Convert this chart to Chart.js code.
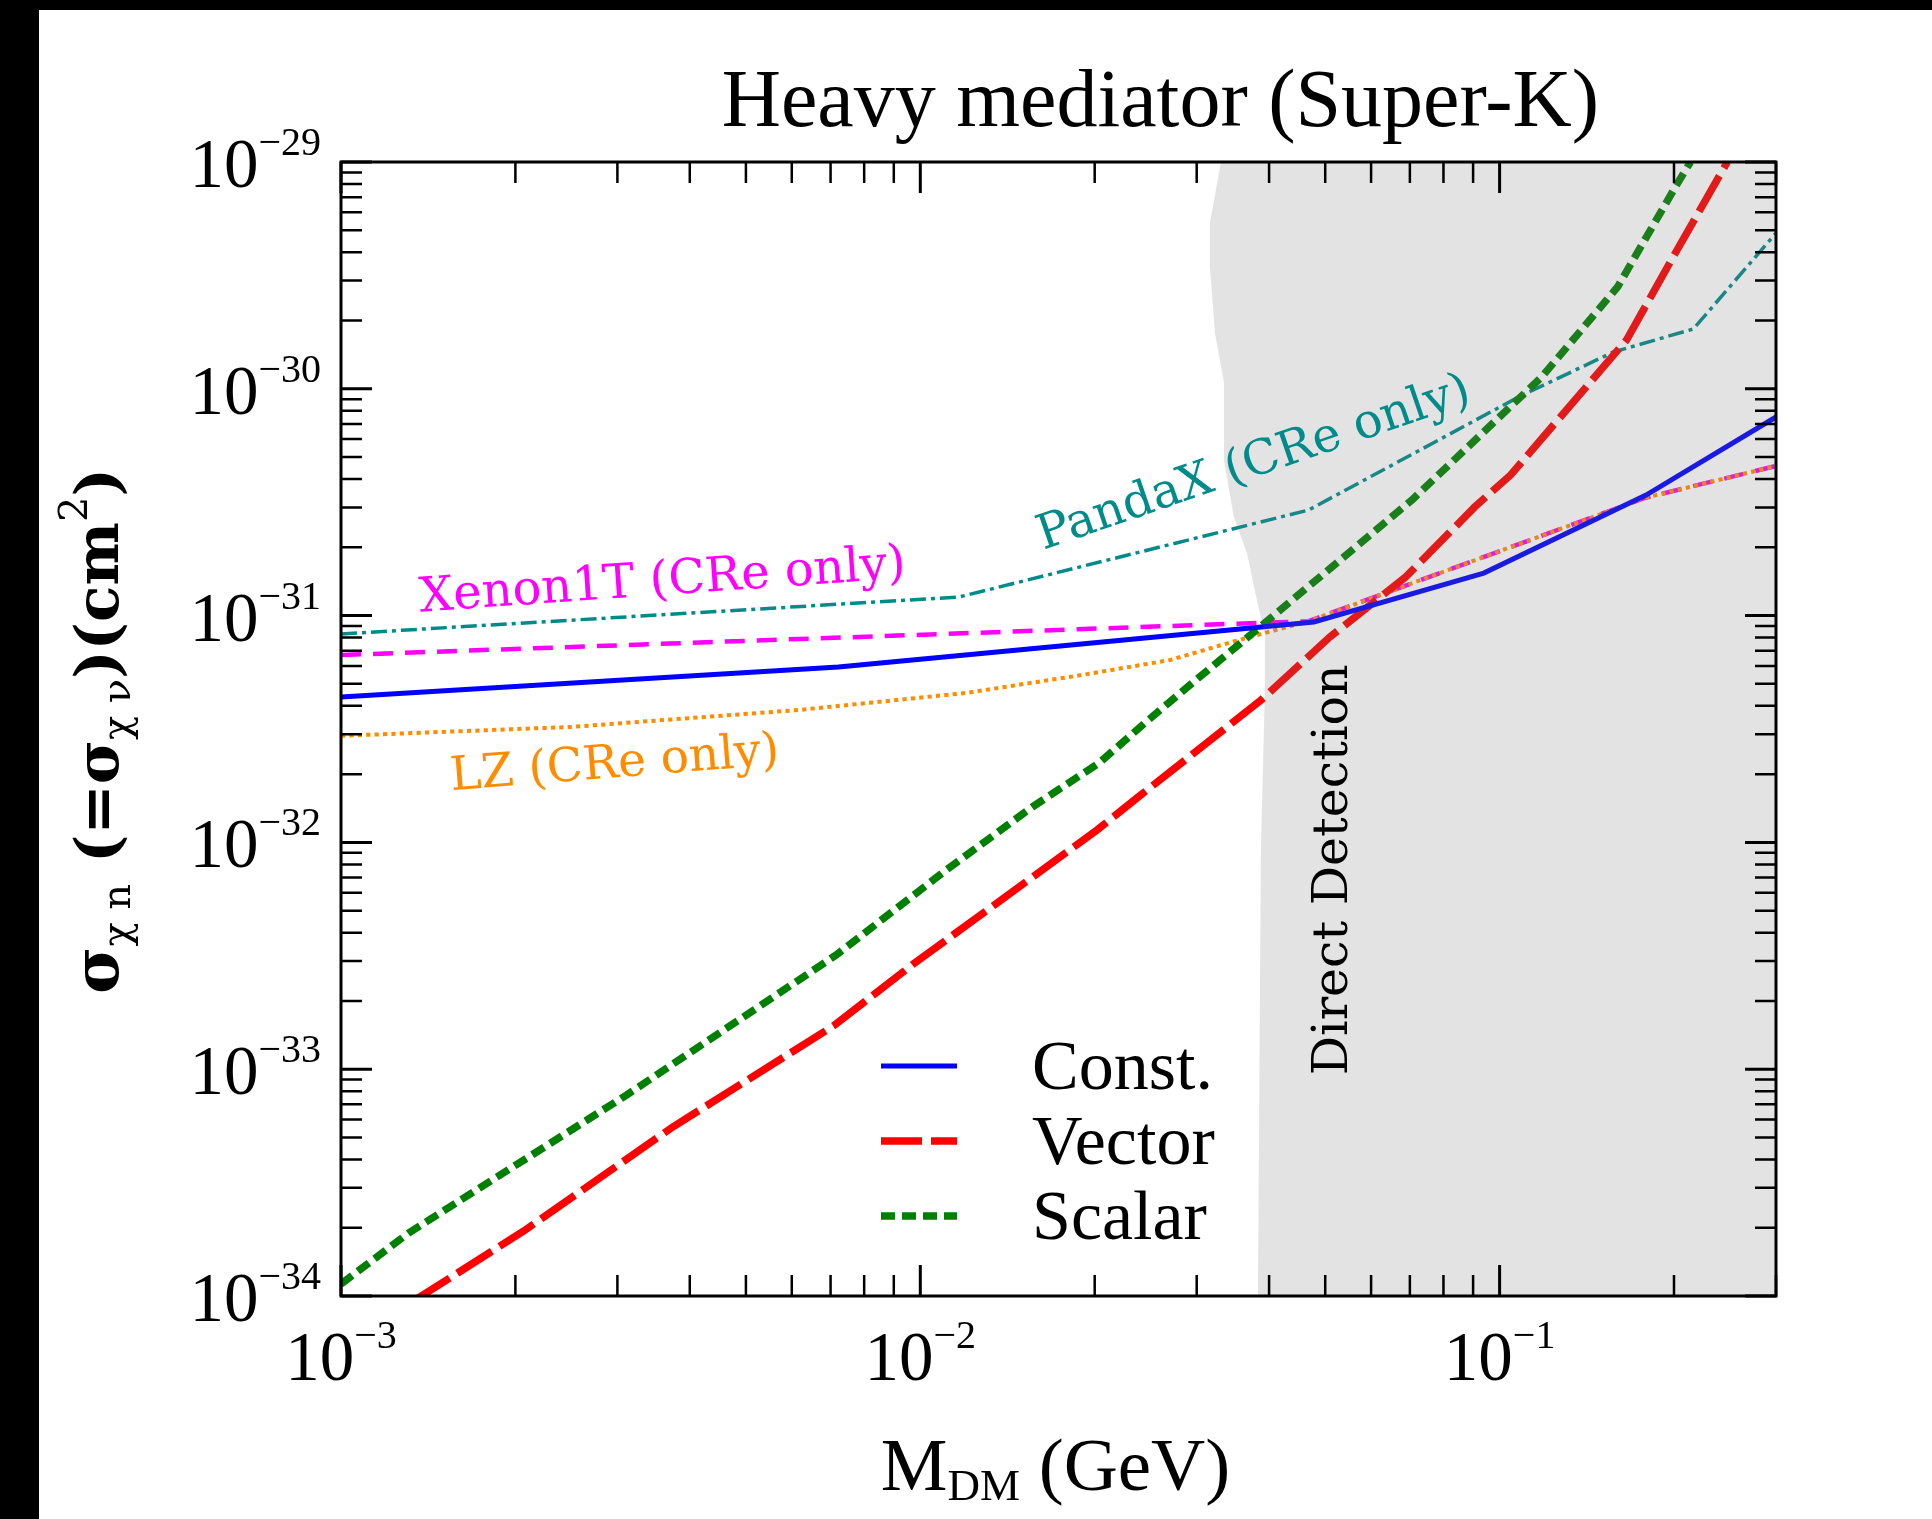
<!DOCTYPE html>
<html lang="en">
<head>
<meta charset="UTF-8">
<title>Heavy mediator (Super-K)</title>
<script src="https://cdn.jsdelivr.net/npm/chart.js"></script>
<style>
  html, body { margin: 0; padding: 0; background: #000; overflow: hidden; }
  #wrap { position: absolute; left: 39px; top: 10px; width: 1893px; height: 1509px; background: #fff; }
</style>
</head>
<body>
<div id="wrap"><canvas id="chart"></canvas></div>
<script>
// axis ranges: DM mass in GeV, cross section in cm^2
const massRange = [1e-3, 0.3];
const sigmaRange = [1e-34, 1e-29];
const massTickExp = [-3, -2, -1];
const sigmaTickExp = [-34, -33, -32, -31, -30, -29];

// Super-K bounds, heavy mediator
const constMass = [0.001, 0.00722, 0.0478, 0.0939, 0.179, 0.3];
const constSigma = [4.38e-32, 5.93e-32, 9.37e-32, 1.54e-31, 3.40e-31, 7.51e-31];

const vectorMass = [0.001342, 0.002068, 0.003737, 0.007079, 0.009725, 0.02019, 0.02366, 0.03877, 0.05091, 0.06884, 0.09055, 0.1045, 0.1656, 0.2011, 0.2472];
const vectorSigma = [9.6e-35, 1.935e-34, 5.56e-34, 1.55e-33, 2.909e-33, 1.134e-32, 1.57e-32, 4.245e-32, 8.04e-32, 1.48e-31, 3.01e-31, 4.17e-31, 1.641e-30, 3.97e-30, 1.0e-29];

const scalarMass = [0.001, 0.00131, 0.00311, 0.00716, 0.01109, 0.0156, 0.02035, 0.02453, 0.02991, 0.03934, 0.07053, 0.1182, 0.1598, 0.2011, 0.2135];
const scalarSigma = [1.13e-34, 1.90e-34, 7.69e-34, 3.19e-33, 7.56e-33, 1.432e-32, 2.239e-32, 3.396e-32, 5.20e-32, 9.28e-32, 3.23e-31, 1.127e-30, 2.81e-30, 7.76e-30, 1.0e-29];

// cosmic-ray electron bounds from other experiments
const lzMass = [0.001, 0.0025, 0.0062, 0.012, 0.019, 0.027, 0.035, 0.0468, 0.178, 0.3];
const lzSigma = [2.95e-32, 3.23e-32, 3.84e-32, 4.56e-32, 5.47e-32, 6.37e-32, 7.73e-32, 9.45e-32, 3.3e-31, 4.57e-31];

const xenonMass = [0.001, 0.0468, 0.178, 0.3];
const xenonSigma = [6.70e-32, 9.45e-32, 3.3e-31, 4.57e-31];

const pandaMass = [0.001, 0.01167, 0.0468, 0.1078, 0.1572, 0.216, 0.3];
const pandaSigma = [8.30e-32, 1.208e-31, 2.92e-31, 9.20e-31, 1.453e-30, 1.835e-30, 4.86e-30];

// left edge of the direct detection region, top to bottom
const shadeMass = [0.03304, 0.03162, 0.03162, 0.03226, 0.03343, 0.03343, 0.03478, 0.03663, 0.03811, 0.03934, 0.03934, 0.03872, 0.03827];
const shadeSigma = [1e-29, 5.38e-30, 3.44e-30, 1.762e-30, 1.072e-30, 4.85e-31, 2.72e-31, 1.888e-31, 1.172e-31, 8.21e-32, 4.70e-32, 9.26e-33, 1e-34];

const pts = (xs, ys) => xs.map((m, i) => ({x: m, y: ys[i]}));

const times = '"Liberation Serif", serif';
const dejavu = '"DejaVu Serif", serif';

function line(label, xs, ys, color, width, dash) {
  return {label, data: pts(xs, ys), borderColor: color, borderWidth: width, borderDash: dash,
          pointRadius: 0, fill: false, tension: 0};
}

// 10^n label, "10" plus a raised exponent
function power(ctx, exp, x, base, align) {
  const sup = '\u2212' + Math.abs(exp);
  ctx.font = '69px ' + times;
  const w1 = ctx.measureText('10').width;
  ctx.font = '40px ' + times;
  const w2 = ctx.measureText(sup).width;
  const left = align === 'right' ? x - w1 - w2 : x - (w1 + w2) / 2;
  ctx.textAlign = 'left';
  ctx.textBaseline = 'alphabetic';
  ctx.font = '69px ' + times;
  ctx.fillText('10', left, base);
  ctx.font = '40px ' + times;
  ctx.fillText(sup, left + w1, base - 32);
}

function note(ctx, text, color, px, py, deg, size) {
  ctx.save();
  ctx.translate(px, py);
  ctx.rotate(deg * Math.PI / 180);
  ctx.fillStyle = color;
  ctx.font = size + 'px ' + dejavu;
  ctx.textAlign = 'left';
  ctx.textBaseline = 'alphabetic';
  ctx.fillText(text, 0, 0);
  ctx.restore();
}

// run of text pieces with their own font and baseline shift
function runs(ctx, parts, x0, base) {
  let x = x0;
  for (const [t, font, dy] of parts) {
    ctx.font = font;
    ctx.fillText(t, x, base + dy);
    x += ctx.measureText(t).width;
  }
}
function runsWidth(ctx, parts) {
  let w = 0;
  for (const [t, font] of parts) { ctx.font = font; w += ctx.measureText(t).width; }
  return w;
}

function logTicks(scale) {
  const out = [];
  const lo = Math.floor(Math.log10(scale.min) + 1e-9);
  const hi = Math.ceil(Math.log10(scale.max) - 1e-9);
  for (let e = lo; e <= hi; e++) {
    for (let k = 1; k < 10; k++) {
      const v = k * Math.pow(10, e);
      if (v >= scale.min * 0.999 && v <= scale.max * 1.001) out.push({v, major: k === 1});
    }
  }
  return out;
}

const decor = {
  id: 'decor',
  afterDatasetsDraw(chart) {
    const {ctx, chartArea: a, scales: {x, y}} = chart;
    ctx.save();

    // curve labels
    note(ctx, 'Xenon1T (CRe only)', '#ff00ff', x.getPixelForValue(1.37e-3), y.getPixelForValue(1.04e-31), -4, 48);
    note(ctx, 'LZ (CRe only)', '#ff8c00', x.getPixelForValue(1.55e-3), y.getPixelForValue(1.70e-32), -4.5, 47);
    note(ctx, 'PandaX (CRe only)', '#008b8b', x.getPixelForValue(1.63e-2), y.getPixelForValue(1.95e-31), -19, 48);
    note(ctx, 'Direct Detection', '#000', x.getPixelForValue(0.0545), y.getPixelForValue(9.4e-34), -90, 49);

    // legend
    chart.data.datasets.slice(1, 4).forEach((ds, i) => {
      const ly = a.bottom - 230 + i * 75;
      ctx.save();
      ctx.strokeStyle = ds.borderColor;
      ctx.lineWidth = ds.borderWidth;
      ctx.setLineDash(ds.borderDash);
      ctx.beginPath();
      ctx.moveTo(a.left + 540, ly);
      ctx.lineTo(a.left + 616, ly);
      ctx.stroke();
      ctx.restore();
      ctx.fillStyle = '#000';
      ctx.font = '70px ' + times;
      ctx.textAlign = 'left';
      ctx.textBaseline = 'alphabetic';
      ctx.fillText(ds.label, a.left + 691, ly + 23);
    });

    // frame and inward ticks on all sides
    ctx.strokeStyle = '#000';
    ctx.lineWidth = 3;
    ctx.setLineDash([]);
    ctx.strokeRect(a.left, a.top, a.width, a.height);
    for (const t of logTicks(x)) {
      const px = x.getPixelForValue(t.v);
      const len = t.major ? 31 : 21;
      ctx.lineWidth = t.major ? 3 : 2.5;
      ctx.beginPath();
      ctx.moveTo(px, a.bottom); ctx.lineTo(px, a.bottom - len);
      ctx.moveTo(px, a.top); ctx.lineTo(px, a.top + len);
      ctx.stroke();
    }
    for (const t of logTicks(y)) {
      const py = y.getPixelForValue(t.v);
      const len = t.major ? 31 : 21;
      ctx.lineWidth = t.major ? 3 : 2.5;
      ctx.beginPath();
      ctx.moveTo(a.left, py); ctx.lineTo(a.left + len, py);
      ctx.moveTo(a.right, py); ctx.lineTo(a.right - len, py);
      ctx.stroke();
    }

    // tick labels
    ctx.fillStyle = '#000';
    massTickExp.forEach(e => power(ctx, e, x.getPixelForValue(Math.pow(10, e)), a.bottom + 84, 'center'));
    sigmaTickExp.forEach(e => power(ctx, e, a.left - 20, y.getPixelForValue(Math.pow(10, e)) + 25, 'right'));

    // title
    ctx.font = '82px ' + times;
    ctx.textAlign = 'center';
    ctx.fillText('Heavy mediator (Super-K)', a.left + a.width * 0.571, a.top - 36);

    // x axis title
    ctx.textAlign = 'left';
    const xt = [['M', '75px ' + times, 0], ['DM', '45px ' + times, 10], [' (GeV)', '75px ' + times, 0]];
    runs(ctx, xt, a.left + a.width / 2 - 3 - runsWidth(ctx, xt) / 2, a.bottom + 194);

    // y axis title, rotated
    const big = 'bold 60px ' + dejavu, sub = '40px ' + dejavu;
    const yt = [['\u03c3', 'bold 64px ' + dejavu, 0], ['\u03c7 n', sub, 12], [' (=\u03c3', big, 0], ['\u03c7 \u03bd', sub, 12],
                [')(cm', big, 0], ['2', sub, -31], [')', big, 0]];
    ctx.save();
    ctx.translate(a.left - 223, (a.top + a.bottom) / 2 + 2);
    ctx.rotate(-Math.PI / 2);
    runs(ctx, yt, -runsWidth(ctx, yt) / 2, 0);
    ctx.restore();

    ctx.restore();
  }
};

new Chart(document.getElementById('chart'), {
  type: 'line',
  data: {
    datasets: [
      {label: 'Direct Detection',
       data: pts(shadeMass.concat([massRange[1], massRange[1]]), shadeSigma.concat([sigmaRange[0], sigmaRange[1]])),
       fill: 'shape', backgroundColor: 'rgba(122,122,122,0.21)', borderColor: 'rgba(0,0,0,0)',
       borderWidth: 0, pointRadius: 0, order: -1},
      line('Const.', constMass, constSigma, '#0000ff', 5, []),
      line('Vector', vectorMass, vectorSigma, '#ff0000', 7.5, [41, 9]),
      line('Scalar', scalarMass, scalarSigma, '#008000', 7.5, [14, 7]),
      line('LZ (CRe only)', lzMass, lzSigma, '#ff8c00', 4, [4.2, 4.2]),
      line('Xenon1T (CRe only)', xenonMass, xenonSigma, '#ff00ff', 4.5, [20, 12]),
      line('PandaX (CRe only)', pandaMass, pandaSigma, '#008b8b', 3.5, [16, 5, 4, 5])
    ]
  },
  options: {
    responsive: true,
    maintainAspectRatio: false,
    animation: false,
    devicePixelRatio: 1,
    events: [],
    layout: {padding: {top: 152, right: 156, left: 0, bottom: 0}},
    plugins: {legend: {display: false}, tooltip: {enabled: false}, title: {display: false}},
    scales: {
      x: {type: 'logarithmic', min: massRange[0], max: massRange[1],
          grid: {display: false}, border: {display: false}, ticks: {display: false},
          afterFit: s => { s.height = 223; }},
      y: {type: 'logarithmic', min: sigmaRange[0], max: sigmaRange[1],
          grid: {display: false}, border: {display: false}, ticks: {display: false},
          afterFit: s => { s.width = 302; }}
    }
  },
  plugins: [decor]
});
</script>
</body>
</html>
